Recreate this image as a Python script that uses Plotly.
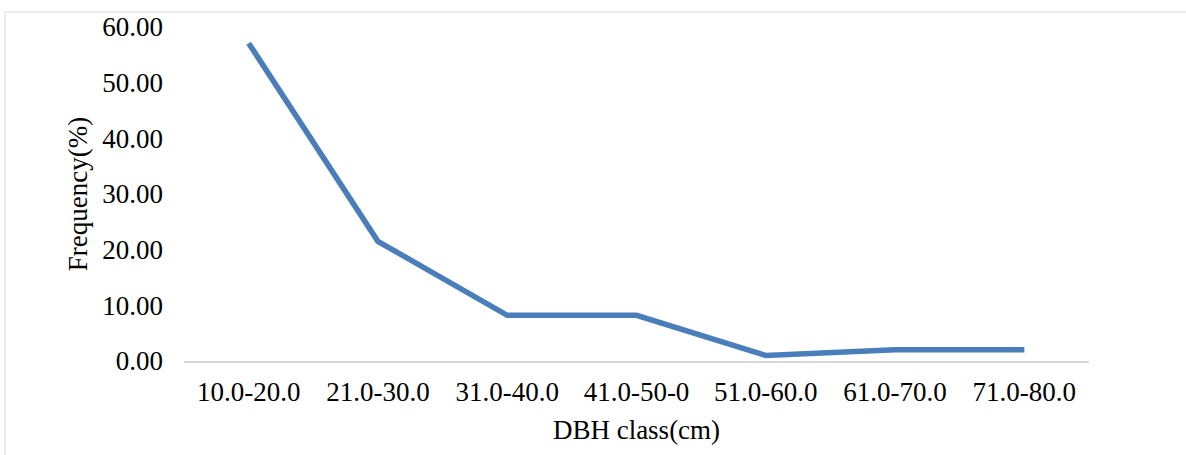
import plotly.graph_objects as go

categories = ["10.0-20.0", "21.0-30.0", "31.0-40.0", "41.0-50-0", "51.0-60.0", "61.0-70.0", "71.0-80.0"]
frequency = [57.1, 21.5, 8.2, 8.2, 1.0, 2.0, 2.0]
y_ticks = [0, 10, 20, 30, 40, 50, 60]
y_tick_labels = ["0.00", "10.00", "20.00", "30.00", "40.00", "50.00", "60.00"]

FONT = "Liberation Serif, Times New Roman, serif"
FS = 27

fig = go.Figure()
fig.add_trace(go.Scatter(
    x=categories, y=frequency, mode="lines",
    line=dict(color="#4a7ebb", width=5.5),
    showlegend=False,
))

fig.update_layout(
    width=1186, height=455,
    margin=dict(l=184, r=97, t=27, b=94, autoexpand=False),
    paper_bgcolor="white", plot_bgcolor="white",
    font=dict(family=FONT, size=FS, color="black"),
    xaxis=dict(
        type="category", automargin=False,
        showgrid=False, zeroline=False,
        showline=True, linecolor="#d9d9d9", linewidth=1.5,
        ticks="", ticklabelstandoff=6,
        tickfont=dict(family=FONT, size=FS, color="black"),
        title=dict(text="DBH class(cm)", standoff=14,
                   font=dict(family=FONT, size=FS, color="black")),
        range=[-0.5, len(categories) - 0.5],
    ),
    yaxis=dict(
        range=[0, 60], automargin=False,
        tickvals=y_ticks, ticktext=y_tick_labels,
        showgrid=False, zeroline=False, showline=False,
        ticks="", ticklabelstandoff=20,
        tickfont=dict(family=FONT, size=FS, color="black"),
        title=dict(text="Frequency(%)", standoff=6,
                   font=dict(family=FONT, size=FS, color="black")),
    ),
    shapes=[dict(
        type="rect", xref="paper", yref="paper",
        x0=(5 - 184) / 905, x1=1.3, y0=-0.6, y1=(361 - 12) / 334,
        line=dict(color="#d9d9d9", width=1), fillcolor="rgba(0,0,0,0)",
        layer="below",
    )],
)

fig.write_html(
    "out.html",
    config={"displayModeBar": False},
    post_script="document.body.style.margin='0';document.body.style.overflow='hidden';",
)
